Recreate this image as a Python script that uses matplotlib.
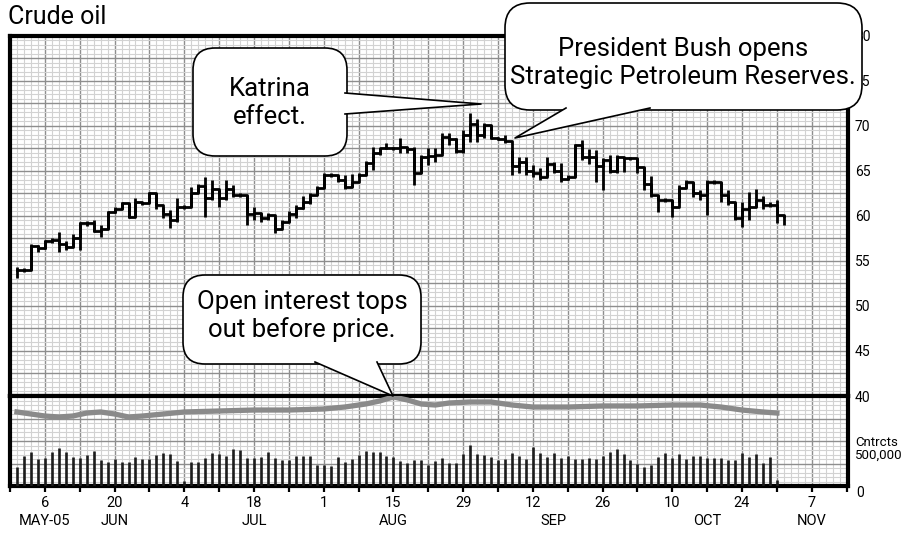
import numpy as np
import matplotlib
matplotlib.use("Agg")
import matplotlib.pyplot as plt
from matplotlib.patches import FancyBboxPatch, Polygon
from matplotlib.lines import Line2D
from matplotlib.ticker import MultipleLocator, FuncFormatter
from matplotlib.transforms import Affine2D, blended_transform_factory

# Crude oil, daily bars on a trading-day axis (day 0 = Mon 6 Jun 2005)
first_day = -4
close = [54.0, 54.0, 56.7, 56.4, 57.2, 57.3, 56.9, 56.6, 57.6, 59.2,
         59.2, 58.3, 58.6, 60.4, 60.8, 61.4, 59.9, 61.5, 61.4, 62.5,
         61.2, 60.2, 59.6, 61.0, 61.0, 62.5, 63.3, 62.0, 63.0, 62.0,
         63.0, 62.3, 62.3, 60.2, 60.3, 59.8, 60.1, 58.6, 59.3, 60.2,
         60.9, 61.5, 62.3, 63.1, 64.6, 64.6, 64.0, 63.2, 63.8, 64.6,
         65.9, 67.0, 67.5, 67.6, 67.5, 67.7, 67.4, 64.8, 66.6, 66.7,
         66.8, 68.8, 68.5, 67.2, 69.0, 70.2, 69.0, 70.1, 68.7, 68.6,
         68.3, 65.6, 66.0, 65.0, 64.8, 64.3, 65.8, 65.0, 64.1, 64.3,
         67.9, 66.5, 66.6, 65.5, 66.2, 65.0, 66.5, 66.4, 66.4, 65.4,
         63.6, 62.3, 61.8, 61.8, 61.0, 63.1, 63.8, 62.5, 62.3, 63.8,
         63.8, 62.3, 61.6, 59.8, 60.8, 61.0, 61.8, 61.2, 61.2, 60.1,
         60.0]
high = [54.3, 54.2, 56.9, 56.8, 57.3, 57.5, 58.2, 57.2, 58.0, 59.3,
        59.4, 59.5, 59.0, 60.6, 61.0, 61.6, 61.4, 62.0, 61.6, 62.7,
        62.5, 61.0, 60.7, 62.0, 61.2, 63.2, 63.6, 64.3, 64.0, 62.9,
        64.0, 63.4, 62.5, 62.3, 61.0, 60.3, 60.3, 59.9, 59.5, 60.6,
        61.2, 62.2, 62.5, 63.3, 64.8, 64.8, 64.6, 64.6, 64.7, 64.8,
        66.1, 67.7, 67.6, 68.1, 67.7, 68.7, 67.7, 67.7, 66.8, 67.6,
        67.6, 69.2, 69.2, 68.7, 69.5, 71.4, 70.8, 70.3, 70.1, 68.8,
        69.0, 67.3, 66.5, 66.5, 65.7, 65.3, 66.5, 66.0, 65.9, 64.5,
        68.0, 68.4, 67.4, 67.3, 66.4, 66.8, 66.8, 66.6, 66.6, 66.4,
        65.4, 64.4, 62.3, 62.0, 61.8, 63.4, 64.0, 63.8, 62.9, 64.0,
        64.0, 63.8, 62.9, 61.6, 61.5, 62.7, 63.0, 62.2, 61.5, 61.8,
        60.1]
low = [53.1, 53.8, 54.0, 56.0, 56.3, 57.0, 56.0, 56.2, 56.6, 56.2,
       58.9, 58.2, 57.7, 58.6, 60.3, 60.8, 59.8, 59.9, 61.2, 61.4,
       60.8, 59.8, 58.7, 59.3, 60.8, 61.0, 62.5, 59.9, 61.8, 61.0,
       61.8, 62.1, 62.1, 59.0, 59.5, 59.3, 59.5, 58.1, 59.1, 59.3,
       59.8, 60.8, 61.3, 62.3, 63.1, 64.3, 63.8, 63.0, 63.2, 64.3,
       64.6, 65.1, 66.8, 67.4, 67.3, 67.0, 67.0, 63.4, 64.8, 65.7,
       66.0, 67.0, 67.9, 67.0, 67.0, 68.2, 68.2, 68.7, 68.5, 68.4,
       68.1, 64.6, 64.8, 64.5, 64.3, 64.0, 64.4, 64.8, 63.8, 64.0,
       64.3, 66.2, 65.8, 63.8, 62.9, 64.8, 64.8, 64.9, 66.2, 64.8,
       62.9, 62.1, 60.4, 61.6, 59.9, 61.5, 63.1, 62.1, 61.8, 60.1,
       63.5, 61.5, 61.2, 59.6, 58.8, 59.5, 61.0, 60.8, 61.0, 59.2,
       59.0]

# volume, thousands of contracts
volume_k = [253, 400, 453, 360, 373, 453, 507, 453, 387, 373,
            413, 467, 347, 320, 360, 320, 320, 387, 360, 360,
            413, 440, 427, 333, 67, 320, 320, 373, 440, 427,
            400, 493, 480, 373, 373, 387, 453, 373, 347, 347,
            400, 400, 400, 280, 280, 267, 387, 320, 360, 413,
            467, 453, 453, 400, 387, 333, 307, 347, 347, 280,
            333, 373, 307, 307, 427, 547, 427, 413, 387, 347,
            360, 440, 400, 360, 520, 440, 387, 440, 373, 400,
            360, 360, 373, 360, 400, 453, 493, 427, 347, 293,
            253, 280, 387, 440, 373, 427, 360, 400, 400, 373,
            373, 373, 347, 347, 440, 387, 427, 307, 387, 80]

# open interest, thousands of contracts
oi_days = [-4, -2, 0, 2, 4, 6, 8, 10, 12, 14, 17, 20, 25, 30, 35, 40, 43, 46, 48, 50,
           52, 54, 56, 58, 61, 64, 67, 70, 75, 80, 85, 90, 94, 97, 100, 103, 105]
oi_k = [987, 960, 933, 920, 933, 973, 987, 960, 920, 933, 960, 987, 1000, 1013, 1013,
        1027, 1053, 1093, 1133, 1187, 1147, 1093, 1080, 1107, 1120, 1120, 1080, 1053,
        1053, 1067, 1067, 1080, 1080, 1053, 1013, 987, 973]

tick_days = [0, 10, 20, 30, 40, 50, 60, 70, 80, 90, 100, 110]
tick_labels = ["6", "20", "4", "18", "1", "15", "29", "12", "26", "10", "24", "7"]
month_days = [0, 10, 30, 50, 73, 95, 110]
month_names = ["MAY-05", "JUN", "JUL", "AUG", "SEP", "OCT", "NOV"]

FONT = ["Roboto", "DejaVu Sans"]
plt.rcParams["font.family"] = FONT

W, H = 908, 534
fig = plt.figure(figsize=(W / 100, H / 100), dpi=100)
# pixel coordinates, origin top-left (for titles / callouts)
PX = Affine2D().scale(1, -1).translate(0, H).scale(1 / W, 1 / H) + fig.transFigure

ax = fig.add_axes([10 / W, (H - 396) / H, 838 / W, 360 / H])
axv = fig.add_axes([10 / W, (H - 486) / H, 838 / W, 90 / H], sharex=ax)

days = np.arange(first_day, first_day + len(close))
vol_days = np.arange(first_day, first_day + len(volume_k))

ax.set_xlim(-5, 115.2)
ax.set_ylim(40, 80)
axv.set_ylim(0, 1200)

ax.xaxis.set_major_locator(MultipleLocator(5))
ax.xaxis.set_minor_locator(MultipleLocator(1))
ax.yaxis.set_major_locator(MultipleLocator(2.5))
ax.yaxis.set_minor_locator(MultipleLocator(0.5))
axv.yaxis.set_major_locator(MultipleLocator(300))
axv.yaxis.set_minor_locator(MultipleLocator(60))

for a in (ax, axv):
    a.set_axisbelow(True)
    a.grid(which="minor", color="#d2d2d2", lw=0.8)
    a.grid(which="major", color="#8e8e8e", lw=1.0)
    for s in a.spines.values():
        s.set_linewidth(3)
        s.set_color("black")

# price bars + closing steps
ax.vlines(days, low, high, color="black", lw=2.0, zorder=3)
ax.step(days, close, where="post", color="black", lw=2.0, zorder=3)

# volume + open interest
axv.vlines(vol_days, 0, volume_k, color="#1c1c1c", lw=1.9, zorder=3)
axv.plot(oi_days, oi_k, color="#8a8a8a", lw=3.8, solid_joinstyle="round", zorder=4)

# ticks
lab = dict(zip(tick_days, tick_labels))
axv.xaxis.set_major_formatter(FuncFormatter(lambda v, p: lab.get(int(round(v)), "")))
axv.tick_params(axis="x", which="major", direction="out", length=4, width=1.6,
                labelsize=10.5, pad=3)
axv.tick_params(axis="x", which="minor", length=0)
axv.tick_params(axis="y", which="both", length=0, left=False, labelleft=False)
ax.tick_params(axis="x", which="both", length=0, labelbottom=False)
ax.yaxis.set_major_formatter(FuncFormatter(lambda v, p: f"{v:.0f}" if v % 5 == 0 else ""))
ax.tick_params(axis="y", which="both", length=0, left=False, labelleft=False,
               labelright=True, labelsize=10, pad=5)

xt = blended_transform_factory(axv.transData, PX)
for d, m in zip(month_days, month_names):
    fig.text(d, 521, m, transform=xt, ha="center", va="center", fontsize=10.5)

yt = blended_transform_factory(PX, axv.transData)
fig.text(856, 0, "0", transform=yt, ha="left", va="top", fontsize=10)
fig.text(855, 500, "Cntrcts\n500,000", transform=yt, ha="left", va="center",
         fontsize=9.5, linespacing=1.0)

fig.text(8, 17, "Crude oil", transform=PX, ha="left", va="center", fontsize=18)


def callout(box, radius, base, tip, text, tx, ty):
    x0, y0, x1, y1 = box
    fig.add_artist(FancyBboxPatch((x0, y0), x1 - x0, y1 - y0, transform=PX,
                                  boxstyle=f"round,pad=0,rounding_size={radius}",
                                  fc="white", ec="black", lw=1.2, zorder=10))
    (bx0, by0), (bx1, by1) = base
    fig.add_artist(Polygon([(bx0, by0), tip, (bx1, by1)], closed=True, transform=PX,
                           fc="white", ec="none", zorder=11))
    fig.add_artist(Line2D([bx0, tip[0], bx1], [by0, tip[1], by1], transform=PX,
                          color="black", lw=1.2, zorder=12))
    fig.text(tx, ty, text, transform=PX, ha="center", va="center", fontsize=18.5,
             linespacing=1.2, zorder=13)


callout((193, 48, 347, 156), 22, [(345, 93), (345, 114)], (481, 104),
        "Katrina\neffect.", 270, 103)
callout((505, 3, 862, 110), 25, [(566, 108), (650, 108)], (515, 138),
        "President Bush opens\nStrategic Petroleum Reserves.", 683, 63)
callout((183, 275, 421, 364), 22, [(315, 362), (377, 362)], (393, 396),
        "Open interest tops\nout before price.", 302, 316)

fig.savefig("out.png", dpi=100)
